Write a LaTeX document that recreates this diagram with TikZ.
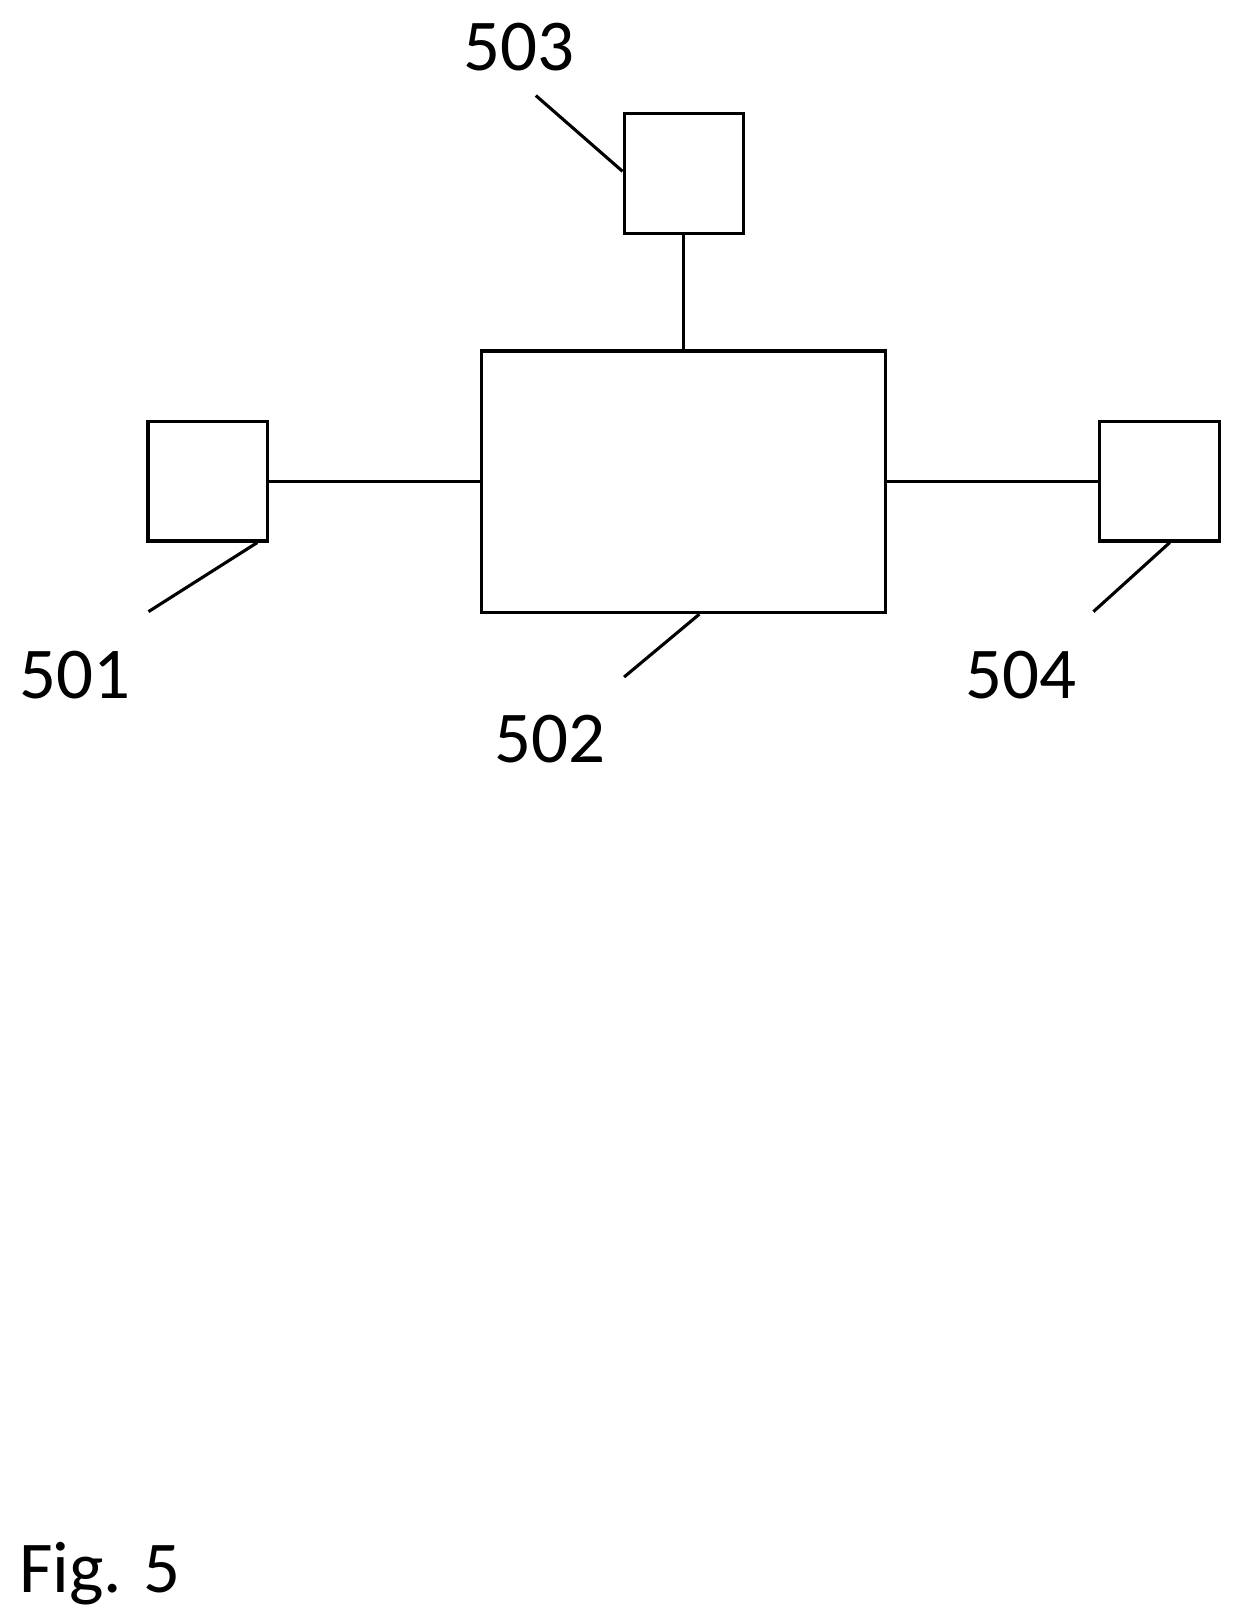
\documentclass[tikz,border=0pt]{standalone}
\usepackage{fontspec}
\setmainfont{Carlito}
\usetikzlibrary{positioning}
\tikzset{%
  % unit blocks and main block
            unitbox/.style = {rectangle, draw=black, line width=1.7pt,
                              minimum width=2.3cm, minimum height=2.3cm, inner sep=0pt},
            mainbox/.style = {unitbox, minimum width=7.78cm, minimum height=5.04cm},
            refnum/.style = {font=\fontsize{40}{48}\selectfont, inner sep=0pt},
            leader/.style = {line width=1.7pt},
 }
\begin{document}
\begin{tikzpicture}[x=0.02cm, y=-0.02cm]
  \useasboundingbox (0,0) rectangle (1190,1562);
  % blocks
     \node (main) [mainbox] at (658.5,464) {};
     \node (devA) [unitbox] at (200,463.5) {};
     \node (devB) [unitbox] at (658.5,167) {};
     \node (devC) [unitbox] at (1116.5,463.5) {};

  % connections
     \draw[leader] (devB.south) -- (main.north);
     \draw[leader] (devA.east) -- (main.west |- devA.east);
     \draw[leader] (main.east |- devC.west) -- (devC.west);

  % reference numerals
     \node (lblB) [refnum] at (500,45) {503};
     \node (lblA) [refnum] at (72,650) {501};
     \node (lblM) [refnum] at (530,712) {502};
     \node (lblC) [refnum] at (983,650) {504};
     \node (fig) [refnum, anchor=west] at (18,1515) {Fig. 5};

     \coordinate (tipB) at (516,92);
     \coordinate (tipA) at (143,589);
     \coordinate (tipM) at (601,652);
     \coordinate (tipC) at (1053,589);
     \draw[leader] (tipB) -- (devB.west |- 0,165);
     \draw[leader] (tipA) -- ([xshift=16\pgflinewidth]devA.south);
     \draw[leader] (tipM) -- ([xshift=0.3cm]main.south);
     \draw[leader] (tipC) -- ([xshift=0.2cm]devC.south);
   \end{tikzpicture}
\end{document}
